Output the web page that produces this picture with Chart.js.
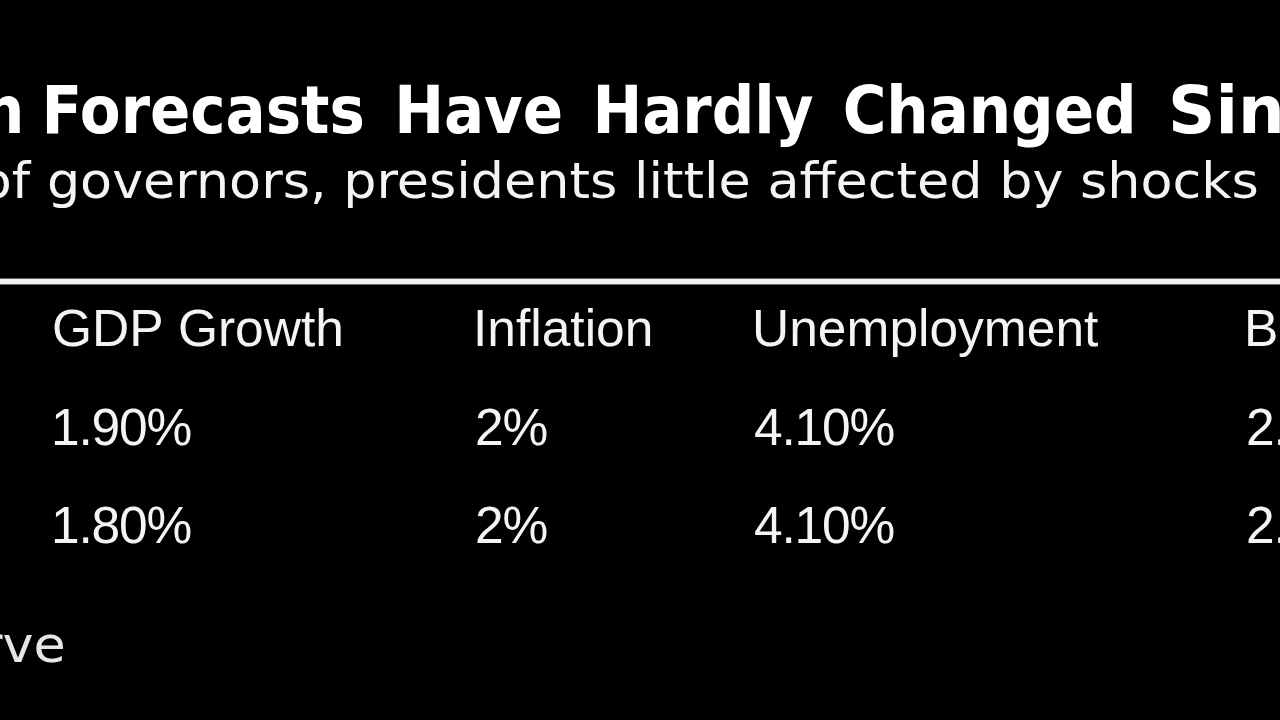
<!DOCTYPE html>
<html>
<head>
<meta charset="utf-8">
<script src="https://cdn.jsdelivr.net/npm/chart.js@4/dist/chart.umd.min.js"></script>
<style>
  html, body { margin: 0; padding: 0; background: #000; }
  #wrap { width: 1280px; height: 720px; position: relative; overflow: hidden; }
</style>
</head>
<body>
<div id="wrap"><canvas id="c" width="1280" height="720"></canvas></div>
<script>
// ---- data ----
const titleText = "Fed Median Forecasts Have Hardly Changed Since June";
const subtitleText = "Projections of governors, presidents little affected by shocks";
const sourceText = "Source: Federal Reserve";
const headers = ["GDP Growth", "Inflation", "Unemployment", "Benchmark Rate"];
const rowLabels = ["June", "September"];
const gdpGrowth = [1.9, 1.8];
const inflation = [2, 2];
const unemployment = [4.1, 4.1];
const benchmarkRate = [2.4, 2.1];

// ---- layout (positions, not data) ----
const colLeft = [54, 477, 755, 1248];
const seriesValues = [gdpGrowth, inflation, unemployment, benchmarkRate];
const yLabels = ["header"].concat(rowLabels);

function fmt(v) {
  return Number.isInteger(v) ? v + "%" : v.toFixed(2) + "%";
}

const datasets = headers.map((h, c) => ({
  label: h,
  data: yLabels.map(r => ({ x: colLeft[c], y: r })),
  pointRadius: 0,
  pointHoverRadius: 0,
  showLine: false
}));

const TABLE_FONT = "51.5px 'Liberation Sans', Arial, sans-serif";
const TEXT_COLOR = "#f4f4f4";

function inkW(m) { return m.actualBoundingBoxLeft + m.actualBoundingBoxRight; }

const decor = {
  id: "decor",
  beforeDraw(chart) {
    const ctx = chart.ctx;
    ctx.save();
    ctx.fillStyle = "#000";
    ctx.fillRect(0, 0, chart.width, chart.height);
    ctx.textBaseline = "alphabetic";
    ctx.textAlign = "left";

    // Title: word by word
    ctx.font = "bold 65.8px 'DejaVu Sans'";
    const words = titleText.split(" ");
    const k = words.indexOf("Forecasts");
    const iS = words.indexOf("Since");
    const mF = ctx.measureText("Forecasts");
    const tsx = 316 / inkW(mF);
    const adv = w => ctx.measureText(w).width;
    const oxF = 47 / tsx + mF.actualBoundingBoxLeft;
    const mC = ctx.measureText("Changed");
    const gap = (1132 / tsx - oxF - adv("Forecasts") - adv("Have") - adv("Hardly") - mC.actualBoundingBoxRight) / 3;
    const pos = [];
    pos[k] = oxF;
    for (let i = k + 1; i < iS; i++) pos[i] = pos[i - 1] + adv(words[i - 1]) + gap;
    for (let i = k - 1; i >= 0; i--) {
      if (i === k - 1) pos[i] = 20 / tsx - ctx.measureText(words[i]).actualBoundingBoxRight;
      else pos[i] = pos[i + 1] - gap - adv(words[i]);
    }
    ctx.fillStyle = "#ffffff";
    ctx.save();
    ctx.scale(tsx, 1);
    for (let i = 0; i < iS; i++) ctx.fillText(words[i], pos[i], 133);
    ctx.restore();
    // trailing words at natural width
    let x = 1172 + ctx.measureText(words[iS]).actualBoundingBoxLeft;
    for (let i = iS; i < words.length; i++) {
      ctx.fillText(words[i], x, 133);
      x += adv(words[i]) + gap;
    }

    // Subtitle (horizontally condensed)
    ctx.font = "49.5px 'DejaVu Sans'";
    const sm = ctx.measureText("governors, presidents little affected by shocks");
    const sx = 1208 / inkW(sm);
    const gm = ctx.measureText("governors");
    const spre = ctx.measureText("Projections of ").width;
    ctx.save();
    ctx.scale(sx, 1);
    ctx.fillStyle = TEXT_COLOR;
    const gOrigin = (49 / sx) + gm.actualBoundingBoxLeft;
    ctx.fillText(subtitleText, gOrigin - spre, 198);
    // Source
    const srm = ctx.measureText(sourceText);
    const srcOrigin = (63 / sx) - srm.actualBoundingBoxRight;
    ctx.fillStyle = "#e6e6e6";
    ctx.fillText(sourceText, srcOrigin, 662);
    ctx.restore();

    // Rule
    ctx.fillStyle = "#f2f2f2";
    ctx.fillRect(0, 279, chart.width, 5);
    ctx.fillStyle = "rgba(200,200,200,0.5)";
    ctx.fillRect(0, 278, chart.width, 1);
    ctx.fillRect(0, 284, chart.width, 1);
    ctx.restore();
  },
  afterDatasetsDraw(chart) {
    const ctx = chart.ctx;
    ctx.save();
    ctx.font = TABLE_FONT;
    ctx.fillStyle = TEXT_COLOR;
    ctx.textBaseline = "alphabetic";
    ctx.textAlign = "left";
    chart.data.datasets.forEach((ds, c) => {
      const meta = chart.getDatasetMeta(c);
      meta.data.forEach((pt, i) => {
        const isHead = i === 0;
        const txt = isHead ? headers[c] : fmt(seriesValues[c][i - 1]);
        ctx.letterSpacing = isHead ? "0px" : "-1.2px";
        const lm = ctx.measureText(txt);
        ctx.fillText(txt, pt.x + lm.actualBoundingBoxLeft, pt.y);
      });
    });
    ctx.restore();
  }
};

new Chart(document.getElementById("c"), {
  type: "scatter",
  data: { datasets },
  options: {
    responsive: false,
    animation: false,
    events: [],
    layout: { padding: { left: 0, right: 0, top: 346, bottom: 177 } },
    plugins: { legend: { display: false }, tooltip: { enabled: false }, title: { display: false } },
    scales: {
      x: { type: "linear", min: 0, max: 1280, display: false },
      y: { type: "category", labels: yLabels, offset: false, display: false }
    }
  },
  plugins: [decor]
});
</script>
</body>
</html>
